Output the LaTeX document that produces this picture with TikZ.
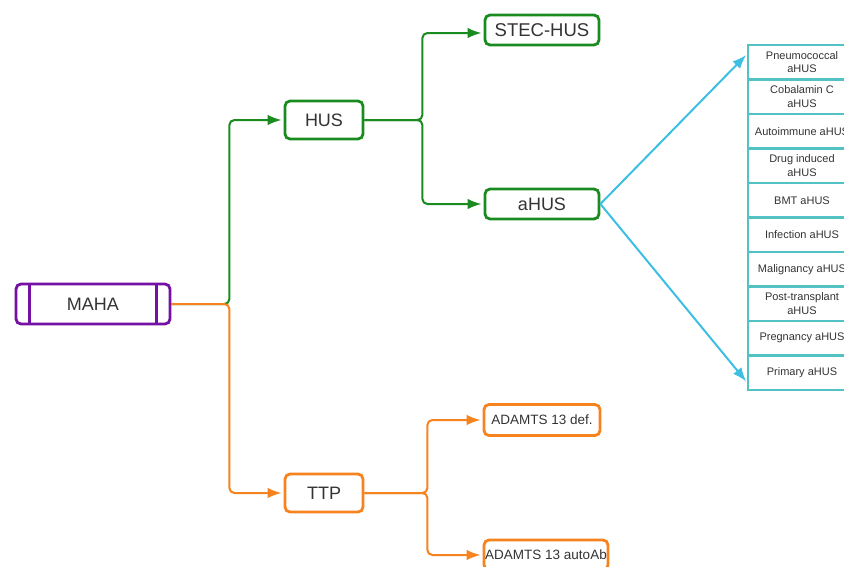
\documentclass[tikz,border=0pt]{standalone}
\usepackage{fontspec}
\setmainfont{Liberation Sans}
\usepackage{tikz}
\usetikzlibrary{arrows.meta}
\usepackage{xcolor}
\definecolor{mypurple}{HTML}{7510A5}
\definecolor{mygreen}{HTML}{1A8C1F}
\definecolor{myorange}{HTML}{F7831E}
\definecolor{mycyan}{HTML}{3CBFE3}
\definecolor{myteal}{HTML}{52C2C4}
\definecolor{mytext}{HTML}{333333}
\tikzset{
  >=latex, % default arrow head
  box/.style={draw,rounded corners=5,line width=2.8,text=mytext,inner sep=0,font=\fontsize{18}{20}\selectfont},
  box maha/.style={box,draw=mypurple,minimum width=154,minimum height=40},
  box hus/.style={box,draw=mygreen},
  box ttp/.style={box,draw=myorange},
  item/.style={draw=myteal,line width=2.2,minimum width=108,minimum height=34.5,inner sep=0,
    align=center,text=mytext,font=\fontsize{11}{13.5}\selectfont},
  link/.style={-{Latex[length=14,width=10.5]},line width=2,rounded corners=5,shorten >=2},
  link hus/.style={link,mygreen},
  link ttp/.style={link,myorange},
  link ahus/.style={link,mycyan,rounded corners=0,shorten >=1}
}
\begin{document}
\begin{tikzpicture}[x=1pt, y=-1pt]

\useasboundingbox (0,0) rectangle (844,566);
\clip (0,0) rectangle (844,566);

% Noeuds principaux
\node[box maha] (MAHA) at (93,304) {MAHA};
\draw[mypurple,line width=2.8] ([xshift=15]MAHA.north west) -- ([xshift=15]MAHA.south west)
  ([xshift=-15]MAHA.north east) -- ([xshift=-15]MAHA.south east);

\node[box hus, minimum width=78, minimum height=38] (HUS) at (324,120) {HUS};
\node[box hus, minimum width=114, minimum height=30, font=\fontsize{18.5}{20}\selectfont] (STEC) at (542,30) {STEC-HUS};
\node[box hus, minimum width=114, minimum height=30] (aHUS) at (542,204) {aHUS};

\node[box ttp, minimum width=78, minimum height=38] (TTP) at (324,493) {TTP};
\node[box ttp, minimum width=116, minimum height=31, font=\fontsize{13.5}{15}\selectfont] (DEF) at (542,420) {ADAMTS 13 def.};
\node[box ttp, minimum width=124, minimum height=30, font=\fontsize{13.5}{15}\selectfont] (AB) at (546,555) {ADAMTS 13 autoAb};

% Liste des aHUS
\foreach \txt [count=\i] in {Pneumococcal\\aHUS, Cobalamin C\\aHUS, Autoimmune aHUS,
    Drug induced\\aHUS, BMT aHUS, Infection aHUS, Malignancy aHUS,
    Post-transplant\\aHUS, Pregnancy aHUS, Primary aHUS}
  \node[item] (item-\i) at (802, 45 + 34.5*\i - 17.25) {\txt};

% Connexions MAHA
\draw[link hus] (MAHA.east) -- ++(58,0) |- (HUS);
\draw[link ttp] (MAHA.east) -- ++(58,0) |- (TTP);

% Connexions HUS
\draw[link hus] (HUS.east) -- ++(58,0) |- ([yshift=-3]STEC.west);
\draw[link hus] (HUS.east) -- ++(58,0) |- (aHUS);

% Connexions TTP
\draw[link ttp] (TTP.east) -- ++(63,0) |- (DEF);
\draw[link ttp] (TTP.east) -- ++(63,0) |- (AB);

% Connexions aHUS
\draw[link ahus] (aHUS.east) -- ([yshift=8]item-1.west);
\draw[link ahus] (aHUS.east) -- ([yshift=-9.5]item-10.west);

\end{tikzpicture}
\end{document}
